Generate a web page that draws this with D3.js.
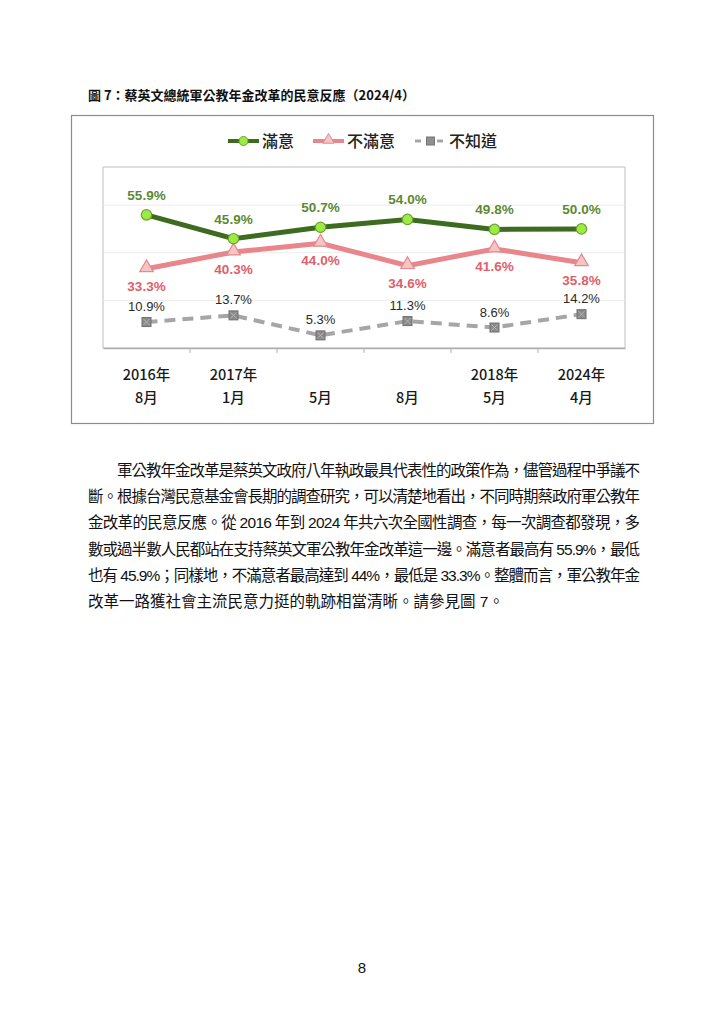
<!DOCTYPE html>
<html>
<head>
<meta charset="utf-8">
<script src="https://cdn.jsdelivr.net/npm/d3@7"></script>
<style>
  body { margin: 0; background: #fff; }
  svg text { font-family: "Liberation Sans", "Noto Sans CJK TC", sans-serif; }
</style>
</head>
<body>
<div id="page"></div>
<script>
// data
var periods = ["2016年8月", "2017年1月", "2017年5月", "2017年8月", "2018年5月", "2024年4月"];
var yearLabels = ["2016年", "2017年", "", "", "2018年", "2024年"];
var monthLabels = ["8月", "1月", "5月", "8月", "5月", "4月"];
var satisfied = [55.9, 45.9, 50.7, 54.0, 49.8, 50.0];
var dissatisfied = [33.3, 40.3, 44.0, 34.6, 41.6, 35.8];
var unknown = [10.9, 13.7, 5.3, 11.3, 8.6, 14.2];
var gridTicks = [20, 40, 60];

var bodyLines = [
  "軍公教年金改革是蔡英文政府八年執政最具代表性的政策作為，儘管過程中爭議不",
  "斷。根據台灣民意基金會長期的調查研究，可以清楚地看出，不同時期蔡政府軍公教年",
  "金改革的民意反應。從 2016 年到 2024 年共六次全國性調查，每一次調查都發現，多",
  "數或過半數人民都站在支持蔡英文軍公教年金改革這一邊。滿意者最高有 55.9%，最低",
  "也有 45.9%；同樣地，不滿意者最高達到 44%，最低是 33.3%。整體而言，軍公教年金",
  "改革一路獲社會主流民意力挺的軌跡相當清晰。請參見圖 7。"
];

var svg = d3.select("#page").append("svg")
  .attr("width", 724)
  .attr("height", 1024);

// figure title
svg.append("text")
  .attr("x", 88).attr("y", 100)
  .style("font-family", "'Noto Sans CJK TC', sans-serif")
  .style("font-size", "13px")
  .style("font-weight", "bold")
  .attr("fill", "#111")
  .text("圖 7：蔡英文總統軍公教年金改革的民意反應（2024/4）");

// outer frame
svg.append("rect")
  .attr("x", 71.5).attr("y", 115.5)
  .attr("width", 582).attr("height", 308)
  .attr("fill", "none").attr("stroke", "#8c8c8c").attr("stroke-width", 1.2);

// plot area
var plot = {left: 103, top: 167, right: 625, bottom: 348};

var x = d3.scaleBand()
  .domain(periods)
  .range([plot.left, plot.right]);

var y = d3.scaleLinear()
  .domain([0, 76])
  .range([plot.bottom, plot.top]);

var cx = function(i) { return x(periods[i]) + x.bandwidth() / 2; };

svg.append("rect")
  .attr("x", plot.left).attr("y", plot.top)
  .attr("width", plot.right - plot.left).attr("height", plot.bottom - plot.top)
  .attr("fill", "#fff").attr("stroke", "#c8c8c8").attr("stroke-width", 1.2);

// gridlines
svg.append("g")
  .selectAll("line")
  .data(gridTicks)
  .enter().append("line")
    .attr("x1", plot.left).attr("x2", plot.right)
    .attr("y1", function(d) { return y(d); })
    .attr("y2", function(d) { return y(d); })
    .attr("stroke", "#ececec").attr("stroke-width", 1);

// x axis
var xAxis = svg.append("g")
  .attr("transform", "translate(0," + plot.bottom + ")")
  .call(d3.axisBottom(x).tickSize(0).tickFormat(""));
xAxis.select(".domain").attr("stroke", "#b0b0b0").attr("stroke-width", 1.5);

// separators between categories
svg.append("g")
  .selectAll("line")
  .data(periods.slice(1))
  .enter().append("line")
    .attr("x1", function(d) { return x(d); })
    .attr("x2", function(d) { return x(d); })
    .attr("y1", plot.bottom).attr("y2", plot.bottom + 5)
    .attr("stroke", "#b0b0b0").attr("stroke-width", 1);

svg.append("g")
  .selectAll("text")
  .data(yearLabels)
  .enter().append("text")
    .attr("x", function(d, i) { return cx(i); })
    .attr("y", 380)
    .attr("text-anchor", "middle")
    .style("font-family", "'Noto Sans CJK TC', sans-serif")
    .style("font-size", "14.5px").style("font-weight", "500")
    .attr("fill", "#1a1a1a")
    .text(function(d) { return d; });

svg.append("g")
  .selectAll("text")
  .data(monthLabels)
  .enter().append("text")
    .attr("x", function(d, i) { return cx(i); })
    .attr("y", 403)
    .attr("text-anchor", "middle")
    .style("font-family", "'Noto Sans CJK TC', sans-serif")
    .style("font-size", "14.5px").style("font-weight", "500")
    .attr("fill", "#1a1a1a")
    .text(function(d) { return d; });

var line = d3.line()
  .x(function(d, i) { return cx(i); })
  .y(function(d) { return y(d); });

// 不知道
svg.append("path")
  .datum(unknown)
  .attr("d", line)
  .attr("fill", "none").attr("stroke", "#a6a6a6")
  .attr("stroke-width", 4).attr("stroke-dasharray", "11,7");

// 不滿意
svg.append("path")
  .datum(dissatisfied)
  .attr("d", line)
  .attr("fill", "none").attr("stroke", "#e8868c").attr("stroke-width", 5);

// 滿意
svg.append("path")
  .datum(satisfied)
  .attr("d", line)
  .attr("fill", "none").attr("stroke", "#3d6b1f").attr("stroke-width", 5);

// markers
function squareMark(g, px, py) {
  g.append("rect")
    .attr("x", px - 4.5).attr("y", py - 4.5)
    .attr("width", 9).attr("height", 9)
    .attr("fill", "#8a8a8a").attr("stroke", "#707070").attr("stroke-width", 1);
  g.append("path")
    .attr("d", "M" + (px - 3) + "," + (py - 3) + "L" + (px + 3) + "," + (py + 3) +
               "M" + (px + 3) + "," + (py - 3) + "L" + (px - 3) + "," + (py + 3))
    .attr("stroke", "#b5b5b5").attr("stroke-width", 1);
}
function triMark(g, px, py) {
  g.append("path")
    .attr("d", d3.symbol().type(d3.symbolTriangle).size(80)())
    .attr("transform", "translate(" + px + "," + (py - 1) + ")")
    .attr("fill", "#f7c4c4").attr("stroke", "#e38b8f").attr("stroke-width", 1.2);
}
function circMark(g, px, py) {
  g.append("circle")
    .attr("cx", px).attr("cy", py).attr("r", 5.2)
    .attr("fill", "#9beb44").attr("stroke", "#6ea12f").attr("stroke-width", 1.2);
}

var markG = svg.append("g");
unknown.forEach(function(v, i) { squareMark(markG, cx(i), y(v)); });
dissatisfied.forEach(function(v, i) { triMark(markG, cx(i), y(v)); });
satisfied.forEach(function(v, i) { circMark(markG, cx(i), y(v)); });

// value labels
svg.append("g")
  .selectAll("text")
  .data(satisfied)
  .enter().append("text")
    .attr("x", function(d, i) { return cx(i); })
    .attr("y", function(d) { return y(d) - 15; })
    .attr("text-anchor", "middle")
    .style("font-size", "13.5px").style("font-weight", "bold")
    .attr("fill", "#5b8a34")
    .text(function(d) { return d.toFixed(1) + "%"; });

svg.append("g")
  .selectAll("text")
  .data(dissatisfied)
  .enter().append("text")
    .attr("x", function(d, i) { return cx(i); })
    .attr("y", function(d) { return y(d) + 22; })
    .attr("text-anchor", "middle")
    .style("font-size", "13.5px").style("font-weight", "bold")
    .attr("fill", "#e0606a")
    .text(function(d) { return d.toFixed(1) + "%"; });

svg.append("g")
  .selectAll("text")
  .data(unknown)
  .enter().append("text")
    .attr("x", function(d, i) { return cx(i); })
    .attr("y", function(d) { return y(d) - 11; })
    .attr("text-anchor", "middle")
    .style("font-size", "13px")
    .attr("fill", "#2a2a2a")
    .text(function(d) { return d.toFixed(1) + "%"; });

// legend
var legend = [
  {name: "滿意", x: 228, color: "#3d6b1f", dash: null, mark: "circle"},
  {name: "不滿意", x: 313, color: "#e8868c", dash: null, mark: "triangle"},
  {name: "不知道", x: 415, color: "#a6a6a6", dash: "6,5", mark: "square"}
];
legend.forEach(function(d) {
  var ly = 141;
  svg.append("line")
    .attr("x1", d.x).attr("x2", d.x + 31)
    .attr("y1", ly).attr("y2", ly)
    .attr("stroke", d.color).attr("stroke-width", d.dash ? 3 : 4)
    .attr("stroke-dasharray", d.dash);
  if (d.mark === "square") {
    svg.append("rect").attr("x", d.x + 11.5).attr("y", ly - 4).attr("width", 8).attr("height", 8)
      .attr("fill", "#8f8f8f").attr("stroke", "#777");
  } else if (d.mark === "triangle") {
    svg.append("path").attr("d", d3.symbol().type(d3.symbolTriangle).size(55)())
      .attr("transform", "translate(" + (d.x + 15.5) + "," + (ly - 1) + ")")
      .attr("fill", "#f7c4c4").attr("stroke", "#e38b8f");
  } else {
    svg.append("circle").attr("cx", d.x + 15.5).attr("cy", ly).attr("r", 4.5)
      .attr("fill", "#9beb44").attr("stroke", "#6ea12f");
  }
  svg.append("text")
    .attr("x", d.x + 34).attr("y", ly + 6)
    .style("font-family", "'Noto Sans CJK TC', sans-serif")
    .style("font-size", "16px").style("font-weight", "500")
    .attr("fill", "#222")
    .text(d.name);
});

// body paragraph
svg.append("g")
  .selectAll("text")
  .data(bodyLines)
  .enter().append("text")
    .attr("x", function(d, i) { return i === 0 ? 117 : 88; })
    .attr("y", function(d, i) { return 476 + i * 26.2; })
    .attr("textLength", function(d, i) { return i === 0 ? 523 : (i < 5 ? 552 : null); })
    .attr("lengthAdjust", "spacing")
    .style("font-size", "15.5px")
    .attr("fill", "#111")
    .text(function(d) { return d; });

// page number
svg.append("text")
  .attr("x", 362).attr("y", 973)
  .attr("text-anchor", "middle")
  .style("font-size", "15px")
  .attr("fill", "#111")
  .text("8");
</script>
</body>
</html>
